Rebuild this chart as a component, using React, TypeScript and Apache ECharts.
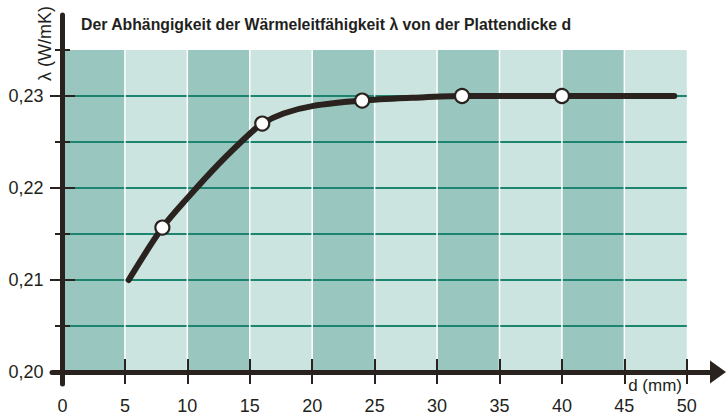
import React, { useEffect, useRef } from "react";
import * as echarts from "echarts";

const TITLE = "Der Abhängigkeit der Wärmeleitfähigkeit λ von der Plattendicke d";
const X_NAME = "d (mm)";
const Y_NAME = "λ (W/mK)";

const xTickValues = [0, 5, 10, 15, 20, 25, 30, 35, 40, 45, 50];
const yLabelValues = [0.2, 0.21, 0.22, 0.23];
const yMinorValues = [0.205, 0.215, 0.225, 0.235];
const gridLineValues = [0.205, 0.21, 0.215, 0.22, 0.225, 0.23];
const separatorValues = [5, 10, 15, 20, 25, 30, 35, 40, 45];
const bandStarts = [0, 5, 10, 15, 20, 25, 30, 35, 40, 45];
const bandEnds = [5, 10, 15, 20, 25, 30, 35, 40, 45, 50];
const bandShade = [1, 0, 1, 0, 1, 0, 1, 0, 1, 0];
const plotXRange = [0, 50];
const plotYRange = [0.2, 0.235];
const xAxisRange = [-0.84, 52.5];
const yAxisRange = [0.1987, 0.2388];

const curveX = [5.3, 8, 10, 12.5, 15, 16, 17.7, 20, 24, 28, 32, 40, 49];
const curveY = [0.21, 0.2157, 0.2189, 0.2226, 0.2259, 0.227, 0.2281, 0.2289, 0.2295, 0.2298, 0.23, 0.23, 0.23];
const pointX = [8, 16, 24, 32, 40];
const pointY = [0.2157, 0.227, 0.2295, 0.23, 0.23];

const W = 726;
const H = 416;
const GRID = { left: 52, right: 8, top: 15, bottom: 32 };
const DARK = "#2a221e";
const TEXT = "#231f20";
const BAND_DARK = "#99c6bf";
const BAND_LIGHT = "#cbe4df";
const TEAL = "#1d8470";
const FONT = "'Liberation Sans', Arial, sans-serif";

export default function App() {
  const ref = useRef<HTMLDivElement>(null);

  useEffect(() => {
    if (!ref.current) return;
    const chart = echarts.init(ref.current, null, { renderer: "svg" });

    const plotW = W - GRID.left - GRID.right;
    const plotH = H - GRID.top - GRID.bottom;
    const xOffset = -((plotYRange[0] - yAxisRange[0]) / (yAxisRange[1] - yAxisRange[0])) * plotH;
    const yOffset = -((0 - xAxisRange[0]) / (xAxisRange[1] - xAxisRange[0])) * plotW;

    const tickStyle = { color: DARK, width: 2 };
    const baseX = {
      type: "value",
      min: xAxisRange[0],
      max: xAxisRange[1],
      position: "bottom",
      offset: xOffset,
      z: 10,
      splitLine: { show: false },
    };
    const baseY = {
      type: "value",
      min: yAxisRange[0],
      max: yAxisRange[1],
      position: "left",
      offset: yOffset,
      z: 10,
      splitLine: { show: false },
    };

    const option: any = {
      animation: false,
      title: {
        text: TITLE,
        left: 81,
        top: 16,
        padding: 0,
        textStyle: { fontSize: 15.8, fontWeight: "bold", color: TEXT, fontFamily: FONT },
      },
      grid: { ...GRID, containLabel: false, outerBoundsMode: "none" },
      xAxis: [
        {
          ...baseX,
          axisLine: {
            show: true,
            onZero: false,
            symbol: ["none", "triangle"],
            symbolSize: [23, 16],
            lineStyle: { color: DARK, width: 5 },
          },
          axisTick: { show: true, inside: false, length: 12, customValues: xTickValues, lineStyle: tickStyle },
          axisLabel: {
            customValues: xTickValues,
            margin: 25,
            fontSize: 18,
            color: TEXT,
            fontFamily: FONT,
          },
          name: X_NAME,
          nameLocation: "end",
          nameGap: -36,
          nameMoveOverlap: false,
          nameTextStyle: {
            fontSize: 17,
            color: TEXT,
            fontFamily: FONT,
            align: "right",
            verticalAlign: "top",
            padding: [5, 0, 0, 0],
          },
        },
        {
          ...baseX,
          axisLine: { show: false, onZero: false },
          axisTick: { show: true, inside: true, length: 13, customValues: xTickValues, lineStyle: tickStyle },
          axisLabel: { show: false },
        },
      ],
      yAxis: [
        {
          ...baseY,
          axisLine: { show: true, onZero: false, lineStyle: { color: DARK, width: 5 } },
          axisTick: { show: true, inside: false, length: 12.5, customValues: yLabelValues, lineStyle: tickStyle },
          axisLabel: {
            customValues: yLabelValues,
            margin: 19,
            fontSize: 18,
            color: TEXT,
            fontFamily: FONT,
            formatter: (v: number) => v.toFixed(2).replace(".", ","),
          },
          name: Y_NAME,
          nameLocation: "end",
          nameRotate: 90,
          nameGap: -28.5,
          nameMoveOverlap: false,
          nameTextStyle: {
            fontSize: 18,
            color: TEXT,
            fontFamily: FONT,
            align: "center",
            verticalAlign: "bottom",
            padding: [0, 0, 8, 0],
          },
        },
        {
          ...baseY,
          axisLine: { show: false, onZero: false },
          axisTick: { show: true, inside: true, length: 12.5, customValues: yLabelValues, lineStyle: tickStyle },
          axisLabel: { show: false },
        },
        {
          ...baseY,
          axisLine: { show: false, onZero: false },
          axisTick: { show: true, inside: false, length: 7.5, customValues: yMinorValues, lineStyle: tickStyle },
          axisLabel: { show: false },
        },
        {
          ...baseY,
          axisLine: { show: false, onZero: false },
          axisTick: { show: true, inside: true, length: 7.5, customValues: yMinorValues, lineStyle: tickStyle },
          axisLabel: { show: false },
        },
      ],
      series: [
        {
          type: "custom",
          name: "bands",
          z: 1,
          silent: true,
          data: bandStarts.map((s, i) => [s, bandEnds[i], bandShade[i]]),
          renderItem: (_p: any, api: any) => {
            const a = api.coord([api.value(0), plotYRange[1]]);
            const b = api.coord([api.value(1), plotYRange[0]]);
            return {
              type: "rect",
              shape: { x: a[0], y: a[1], width: b[0] - a[0], height: b[1] - a[1] },
              style: { fill: api.value(2) === 1 ? BAND_DARK : BAND_LIGHT },
            };
          },
        },
        {
          type: "custom",
          name: "gridlines",
          z: 2,
          silent: true,
          data: gridLineValues.map((v) => [plotXRange[0], v]),
          renderItem: (_p: any, api: any) => {
            const v = api.value(1);
            const a = api.coord([plotXRange[0], v]);
            const b = api.coord([plotXRange[1], v]);
            return {
              type: "line",
              shape: { x1: a[0], y1: a[1], x2: b[0], y2: b[1] },
              style: { stroke: TEAL, lineWidth: 2 },
            };
          },
        },
        {
          type: "custom",
          name: "separators",
          z: 3,
          silent: true,
          data: separatorValues.map((v) => [v, plotYRange[0]]),
          renderItem: (_p: any, api: any) => {
            const v = api.value(0);
            const a = api.coord([v, plotYRange[1]]);
            const b = api.coord([v, plotYRange[0]]);
            return {
              type: "line",
              shape: { x1: a[0], y1: a[1], x2: b[0], y2: b[1] },
              style: { stroke: "#ffffff", lineWidth: 1.5 },
            };
          },
        },
        {
          type: "line",
          name: "curve",
          z: 4,
          silent: true,
          smooth: 0.3,
          showSymbol: false,
          symbol: "none",
          data: curveX.map((x, i) => [x, curveY[i]]),
          lineStyle: { color: DARK, width: 6, cap: "round", join: "round" },
        },
        {
          type: "scatter",
          name: "points",
          z: 5,
          silent: true,
          symbolSize: 14,
          data: pointX.map((x, i) => [x, pointY[i]]),
          itemStyle: { color: "#ffffff", borderColor: DARK, borderWidth: 2.2, opacity: 1 },
        },
      ],
    };

    chart.setOption(option);
    return () => chart.dispose();
  }, []);

  return (
    <div
      ref={ref}
      style={{ position: "fixed", left: 0, top: 0, width: W, height: H, background: "#ffffff" }}
    />
  );
}
